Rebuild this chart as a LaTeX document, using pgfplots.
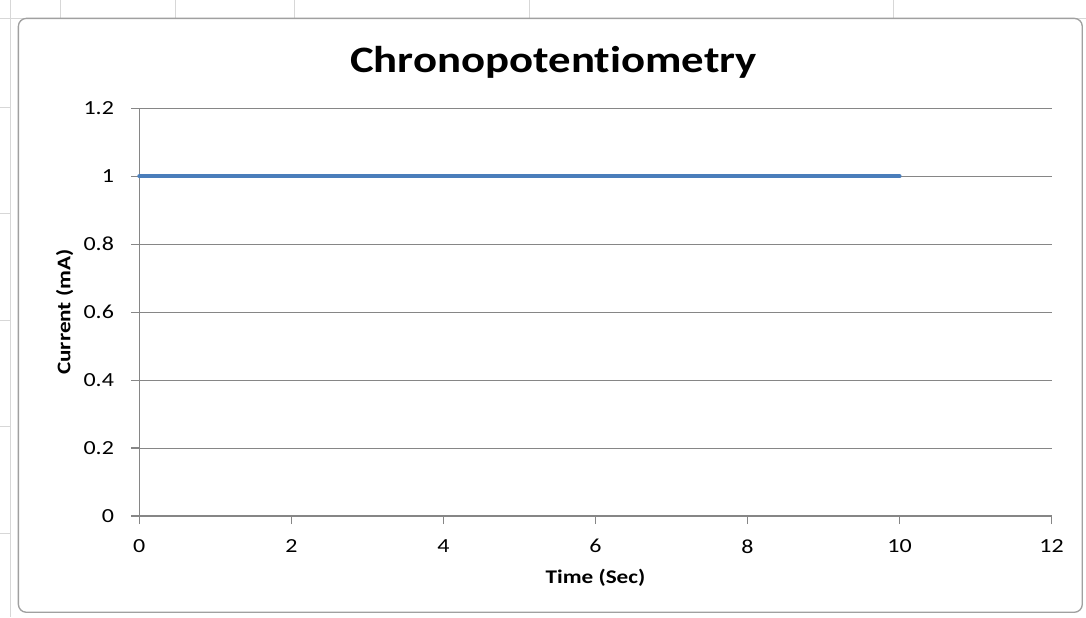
\documentclass[border=0pt]{standalone}
\usepackage{pgfplots}
\pgfplotsset{compat=1.18}
\usepackage{fontspec}
\setmainfont[FakeStretch=1.2, Ligatures=NoCommon]{Carlito}
\definecolor{xlblue}{RGB}{74,126,187}
\definecolor{xlgrid}{RGB}{134,134,134}
\begin{document}
\begin{tikzpicture}[x=1pt,y=1pt]
% page bounds (1px = 0.75pt), axis box lower-left at origin
\path[fill=white] (-104.25,-75.75) rectangle (710.25,387);
% spreadsheet cell lines
\begin{scope}[draw={rgb,255:red,215;green,215;blue,215}, line width=0.6pt]
\draw (-104.25,387-13.5) -- (710.25,387-13.5);
\draw (-104.25+45,387) -- (-104.25+45,387-13.5);
\draw (-104.25+131,387) -- (-104.25+131,387-13.5);
\draw (-104.25+221,387) -- (-104.25+221,387-13.5);
\draw (-104.25+397,387) -- (-104.25+397,387-13.5);
\draw (-104.25+670,387) -- (-104.25+670,387-13.5);
\draw (-104.25+7.5,387) -- (-104.25+7.5,-75.75);
\draw (-104.25,387-80) -- (-104.25+7.5,387-80);
\draw (-104.25,387-160) -- (-104.25+7.5,387-160);
\draw (-104.25,387-240) -- (-104.25+7.5,387-240);
\draw (-104.25,387-320) -- (-104.25+7.5,387-320);
\draw (-104.25,387-400) -- (-104.25+7.5,387-400);
\end{scope}
\draw[rounded corners=6pt, draw={rgb,255:red,160;green,160;blue,160}, line width=1pt, fill=white]
  (-104.25+13.5,-75.75+3.5) rectangle (710.25-2.5,387-13.5);
\begin{axis}[
  scale only axis,
  width=684.75pt, height=306pt,
  xmin=0, xmax=12, ymin=0, ymax=1.2,
  xtick={0,2,...,12}, ytick={0,0.2,...,1.2},
  yticklabels={0,0.2,0.4,0.6,0.8,1,1.2},
  axis x line=bottom, axis y line=left,
  axis line style={-, draw=xlgrid, line width=0.9pt},
  ymajorgrids, grid style={draw=xlgrid, line width=0.75pt},
  tick style={draw=xlgrid, line width=0.9pt},
  tick align=outside,
  major tick length=6pt,
  /pgf/number format/assume math mode=true,
  ticklabel style={font=\fontsize{15}{17}\selectfont, text=black},
  xticklabel style={yshift=-8pt},
  yticklabel style={xshift=-9.5pt},
  xlabel={\textbf{Time (Sec)}},
  ylabel={\textbf{Current (mA)}},
  label style={font=\fontsize{14.5}{17}\selectfont},
  xlabel style={at={(axis description cs:0.5,0)}, anchor=center, yshift=-46.5pt},
  ylabel style={at={(axis description cs:0,0.5)}, anchor=center, yshift=56pt},
  title={\textbf{Chronopotentiometry}},
  title style={font=\fontsize{28}{32}\selectfont, at={(axis description cs:0.5,1)}, anchor=center, yshift=28.5pt, xshift=-31.5pt},
  clip=false,
]
\addplot[xlblue, line width=3pt, line cap=round] coordinates {(0,1) (10,1)};
\end{axis}
\path (-104.25,-75.75) (710.25,387);
\end{tikzpicture}
\end{document}
